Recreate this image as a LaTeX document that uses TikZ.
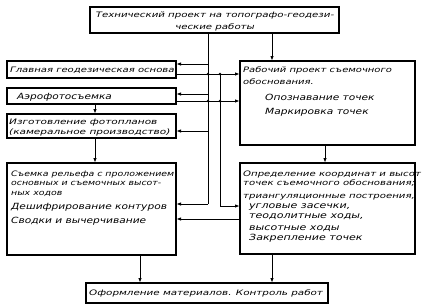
\documentclass[tikz,border=0pt]{standalone}
\usepackage{fontspec}
\setmainfont{DejaVu Sans}
\usetikzlibrary{arrows.meta}
\newcommand\sx[2][1.38]{\scalebox{#1}[1]{#2}}
\newcommand\mytl[1]{\begin{tabular}[t]{@{}l@{}}#1\end{tabular}}
\newcommand\mytc[1]{\begin{tabular}[t]{@{}c@{}}#1\end{tabular}}
\begin{document}
\begin{tikzpicture}[x=1pt,y=-1pt,
  box/.style={draw, line width=1.1pt, inner sep=0pt, outer sep=0pt, anchor=north west},
  txt/.style={font=\fontsize{7.5}{9}\selectfont\itshape, inner sep=0pt, anchor=base west},
  txtb/.style={font=\fontsize{8.5}{9}\selectfont\itshape, inner sep=0pt, anchor=base west},
  ln/.style={line width=1pt},
  arr/.style={line width=1pt, -{Latex[length=5pt,width=3.4pt]}},
  jdot/.style={circle, fill, inner sep=0pt, minimum size=2.6pt}]
\useasboundingbox (0,0) rectangle (427,306);
% boxes
\node[box, minimum width=249pt, minimum height=26pt] (top) at (90,7) {};
\node[box, minimum width=169pt, minimum height=17pt] (glav) at (7,61) {};
\node[box, minimum width=169pt, minimum height=16pt] (aero) at (7,88) {};
\node[box, minimum width=169pt, minimum height=24pt] (izg) at (7,114) {};
\node[box, minimum width=169pt, minimum height=92pt] (sem) at (7,163) {};
\node[box, minimum width=175pt, minimum height=84pt] (rab) at (240,61) {};
\node[box, minimum width=175pt, minimum height=91pt] (opr) at (240,163) {};
\node[box, minimum width=242pt, minimum height=20pt] (ofo) at (86,283) {};
% texts
\node[txt, anchor=base] (tTop) at (215,17) {\mytc{\sx[1.36]{Технический проект на топографо-геодези-}\\[3pt]\sx[1.36]{ческие работы}}};
\node[txt] (tGlav) at (10,72.5) {\sx[1.34]{Главная геодезическая основа}};
\node[txtb] (tAero) at (17,99) {\sx[1.24]{Аэрофотосъемка}};
\node[txt] (tIzg) at (9,124) {\mytl{\sx[1.4]{Изготовление фотопланов}\\[1.5pt]\sx[1.4]{(камеральное производство)}}};
\node[txt] (tSem1) at (11,176) {\mytl{\sx[1.25]{Съемка рельефа с проложением}\\[0.5pt]\sx[1.25]{основных и съемочных высот-}\\[0.5pt]\sx[1.25]{ных ходов}}};
\node[txtb] (tSem2) at (11,209.5) {\mytl{\sx[1.25]{Дешифрирование контуров}\\[5pt]\sx[1.25]{Сводки и вычерчивание}}};
\node[txt] (tRab1) at (243,72.5) {\mytl{\sx[1.33]{Рабочий проект съемочного}\\[3pt]\sx[1.33]{обоснования.}}};
\node[txtb] (tRab2) at (265,100.5) {\mytl{\sx[1.25]{Опознавание точек}\\[5pt]\sx[1.25]{Маркировка точек}}};
\node[txt] (tOpr1) at (243,176.5) {\mytl{\sx[1.35]{Определение координат и высот}\\[-0.5pt]\sx[1.35]{точек съемочного обоснования;}}};
\node[txt] (tOpr2) at (243,198.5) {\sx[1.35]{триангуляционные построения,}};
\node[txtb] (tOpr3) at (249,208) {\mytl{\sx[1.3]{угловые засечки,}\\[1pt]\sx[1.3]{теодолитные ходы,}\\[3pt]\sx[1.3]{высотные ходы}\\[1pt]\sx[1.3]{Закрепление точек}}};
\node[txt] (tOfo) at (89,295.5) {\sx[1.38]{Оформление материалов. Контроль работ}};
% helper coordinates
\coordinate (vA) at (208,204);
\coordinate (vB) at (220,206);
\coordinate (hG1) at (0,64);
\coordinate (hA1) at (0,94);
\coordinate (hI1) at (0,131);
\coordinate (hG2) at (0,74);
\coordinate (hA2) at (0,101);
\coordinate (hO) at (0,219);
\coordinate (x95) at (95,0);
\coordinate (x140) at (140,0);
\coordinate (x272) at (272,0);
\coordinate (x325) at (325,0);
% main vertical from top box
\draw[ln] (vA |- top.south) -- (vA);
\draw[arr] (vA) -- (vA -| sem.east);
\draw[arr] (vA |- hG1) -- (glav.east |- hG1);
\draw[arr] (vA |- hA1) -- (aero.east |- hA1);
\draw[arr] (vA |- hI1) -- (izg.east |- hI1);
\draw[arr] (x272 |- top.south) -- (x272 |- rab.north);
% left boxes to working project
\draw[arr] (glav.east |- hG2) -- (rab.west |- hG2);
\draw[arr] (aero.east |- hA2) -- (rab.west |- hA2);
\draw[arr] (vB |- hG2) -- (vB) -- (vB -| opr.west);
\draw[arr] (opr.west |- hO) -- (sem.east |- hO);
% vertical arrows
\draw[arr] (x95 |- aero.south) -- (x95 |- izg.north);
\draw[arr] (x95 |- izg.south) -- (x95 |- sem.north);
\draw[arr] (x325 |- rab.south) -- (x325 |- opr.north);
\draw[arr] (x140 |- sem.south) -- (x140 |- ofo.north);
\draw[arr] (x272 |- opr.south) -- (x272 |- ofo.north);
% junction marks
\node[jdot] (j1) at (vA |- hG2) {};
\node[jdot] (j2) at (vA |- hA2) {};
\node[jdot] (j3) at (vB |- hG2) {};
\node[jdot] (j4) at (vB |- hA2) {};
\end{tikzpicture}
\end{document}
